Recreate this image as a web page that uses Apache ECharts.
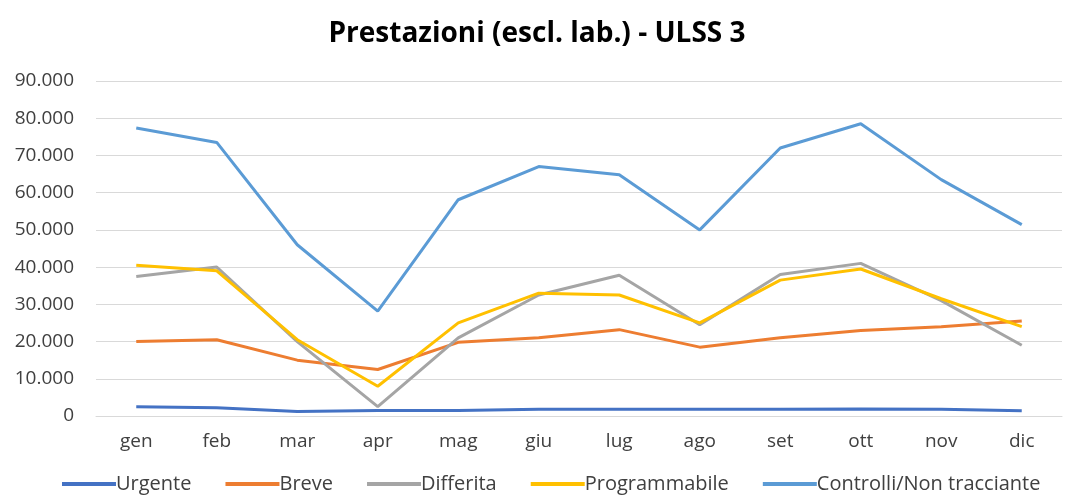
<!DOCTYPE html>
<html>
<head>
<meta charset="utf-8">
<script src="https://cdn.jsdelivr.net/npm/echarts@6/dist/echarts.min.js"></script>
<style>
  html, body { margin: 0; padding: 0; background: #fff; }
  #main { width: 1074px; height: 504px; }
</style>
</head>
<body>
<div id="main"></div>
<script>
// chart data
var months = ['gen', 'feb', 'mar', 'apr', 'mag', 'giu', 'lug', 'ago', 'set', 'ott', 'nov', 'dic'];
var urgente = [2500, 2200, 1200, 1500, 1500, 1800, 1800, 1800, 1800, 1900, 1800, 1400];
var breve = [20000, 20500, 15000, 12500, 19800, 21000, 23200, 18500, 21000, 23000, 24000, 25500];
var differita = [37500, 40000, 20000, 2500, 21000, 32500, 37800, 24500, 38000, 41000, 31000, 19000];
var programmabile = [40500, 39000, 20500, 8000, 25000, 33000, 32500, 25000, 36500, 39500, 31500, 24000];
var controlli = [77400, 73500, 46000, 28200, 58100, 67000, 64800, 50000, 72000, 78500, 63500, 51400];

var seriesNames = ['Urgente', 'Breve', 'Differita', 'Programmabile', 'Controlli/Non tracciante'];
var seriesData = [urgente, breve, differita, programmabile, controlli];
var colors = ['#4472C4', '#ED7D31', '#A5A5A5', '#FFC000', '#5B9BD5'];

function fmt(v) {
    return String(v).replace(/\B(?=(\d{3})+(?!\d))/g, '.');
}

function drawChart() {
    var myChart = echarts.init(document.getElementById('main'));

    var series = [];
    for (var i = 0; i < seriesNames.length; i++) {
        series.push({
            name: seriesNames[i],
            type: 'line',
            data: seriesData[i],
            symbol: 'none',
            lineStyle: { width: 3, color: colors[i] },
            itemStyle: { color: colors[i] }
        });
    }

    var option = {
        animation: false,
        title: {
            text: 'Prestazioni (escl. lab.) - ULSS 3',
            left: 'center',
            top: 15,
            textStyle: {
                fontFamily: 'Open Sans',
                fontWeight: 'bold',
                fontSize: 28,
                color: '#000'
            }
        },
        legend: {
            bottom: 5,
            left: 57,
            icon: 'rect',
            itemWidth: 54,
            itemHeight: 4,
            itemGap: 34,
            textStyle: { fontFamily: 'Open Sans', fontSize: 20, color: '#404040', padding: [0, 0, 0, -5] },
            data: seriesNames
        },
        grid: { left: 96, right: 12, top: 81, bottom: 88, containLabel: false },
        xAxis: {
            type: 'category',
            data: months,
            boundaryGap: true,
            axisLine: { lineStyle: { color: '#D9D9D9', width: 1 } },
            axisTick: { show: false },
            axisLabel: { fontFamily: 'Open Sans', fontSize: 19, color: '#404040', margin: 16 }
        },
        yAxis: {
            type: 'value',
            min: 0,
            max: 90000,
            interval: 10000,
            axisLine: { show: false },
            axisTick: { show: false },
            splitLine: { lineStyle: { color: '#D9D9D9', width: 1 } },
            axisLabel: {
                fontFamily: 'Open Sans',
                fontSize: 19,
                color: '#404040',
                margin: 22,
                formatter: fmt
            }
        },
        series: series
    };

    myChart.setOption(option);
}

drawChart();
</script>
</body>
</html>
